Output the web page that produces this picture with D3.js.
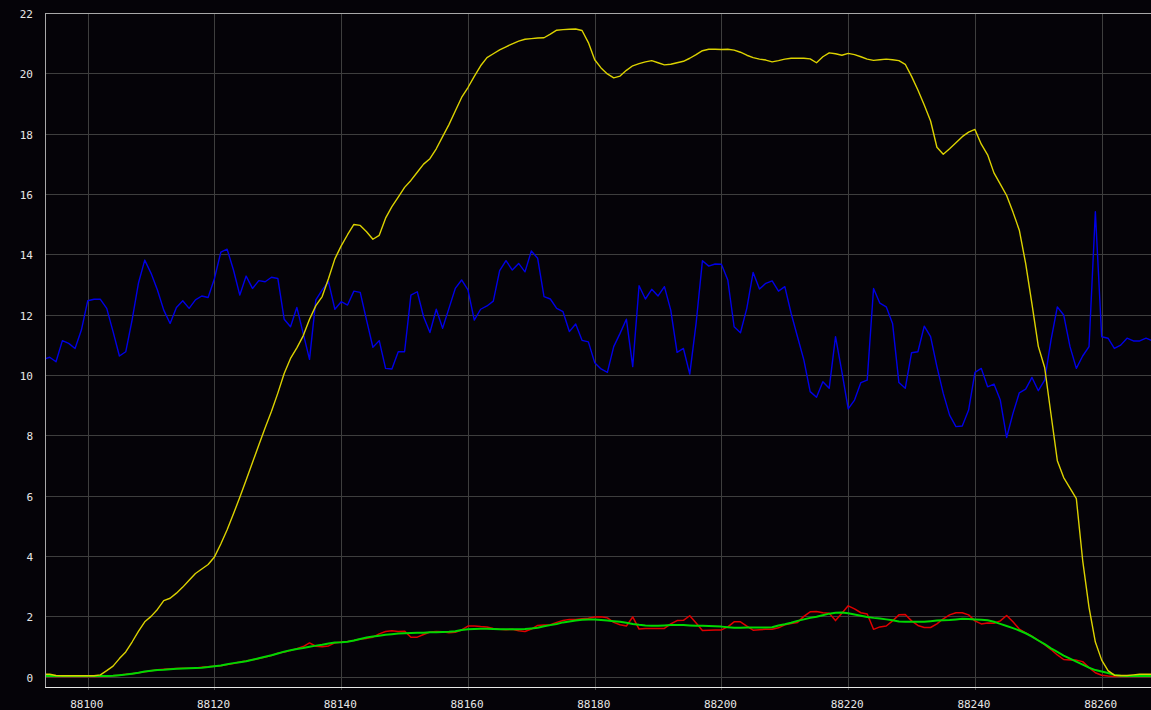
<!DOCTYPE html>
<html>
<head>
<meta charset="utf-8">
<script src="https://cdn.jsdelivr.net/npm/d3@7"></script>
<style>
  html, body { margin: 0; padding: 0; background: #050308; }
  svg { display: block; }
  text { font-family: "DejaVu Sans Mono", "Liberation Mono", monospace; font-size: 11px; fill: #e6e6e6; }
</style>
</head>
<body>
<svg id="chart" width="1151" height="710"></svg>
<script>
// Sample index along the horizontal axis (one sample per frame)
const frames = d3.range(88093, 88269);

const xTicks = [88100, 88120, 88140, 88160, 88180, 88200, 88220, 88240, 88260];
const yTicks = [0, 2, 4, 6, 8, 10, 12, 14, 16, 18, 20, 22];

// Yellow trace
const yellowSeries = [
  0.08, 0.08, 0.04, 0.03, 0.03, 0.03, 0.03, 0.03, 0.03, 0.06,
  0.2, 0.35, 0.6, 0.82, 1.15, 1.5, 1.82, 2.0, 2.23, 2.52,
  2.6, 2.77, 2.97, 3.2, 3.42, 3.57, 3.72, 3.97, 4.4, 4.87,
  5.4, 5.95, 6.52, 7.1, 7.68, 8.25, 8.8, 9.4, 10.05, 10.55,
  10.9, 11.3, 11.85, 12.3, 12.6, 13.2, 13.85, 14.28, 14.65, 14.99,
  14.96, 14.75, 14.5, 14.63, 15.2, 15.58, 15.9, 16.22, 16.45, 16.72,
  16.99, 17.17, 17.5, 17.9, 18.3, 18.75, 19.2, 19.53, 19.9, 20.25,
  20.52, 20.65, 20.78, 20.88, 20.98, 21.07, 21.13, 21.15, 21.17, 21.18,
  21.3, 21.43, 21.45, 21.46, 21.47, 21.42, 21.02, 20.45, 20.18, 19.98,
  19.85, 19.91, 20.1, 20.25, 20.32, 20.38, 20.42, 20.35, 20.28, 20.3,
  20.35, 20.4, 20.5, 20.62, 20.75, 20.8, 20.8, 20.79, 20.8, 20.77,
  20.7, 20.6, 20.52, 20.47, 20.44, 20.38, 20.42, 20.47, 20.5, 20.5,
  20.5, 20.48, 20.35, 20.55, 20.68, 20.65, 20.6, 20.66, 20.62, 20.55,
  20.47, 20.43, 20.45, 20.47, 20.45, 20.42, 20.3, 19.9, 19.45, 18.95,
  18.42, 17.55, 17.32, 17.5, 17.7, 17.9, 18.05, 18.14, 17.65, 17.3,
  16.7, 16.33, 15.95, 15.4, 14.8, 13.7, 12.35, 10.95, 10.25, 8.7,
  7.16, 6.6, 6.25, 5.9, 3.85, 2.3, 1.15, 0.55, 0.2, 0.05,
  0.04, 0.04, 0.06, 0.08, 0.08, 0.08
];

// Blue trace
const blueSeries = [
  10.52, 10.59, 10.44, 11.14, 11.05, 10.88, 11.49, 12.46, 12.51, 12.51,
  12.21, 11.44, 10.63, 10.77, 11.82, 13.04, 13.81, 13.37, 12.82, 12.15,
  11.71, 12.24, 12.46, 12.21, 12.49, 12.62, 12.57, 13.2, 14.07, 14.17,
  13.48, 12.65, 13.28, 12.87, 13.13, 13.09, 13.24, 13.2, 11.85, 11.6,
  12.24, 11.38, 10.52, 12.49, 12.82, 13.09, 12.18, 12.43, 12.32, 12.78,
  12.74, 11.82, 10.92, 11.14, 10.22, 10.2, 10.77, 10.77, 12.65, 12.76,
  11.93, 11.41, 12.18, 11.55, 12.21, 12.87, 13.15, 12.82, 11.82, 12.18,
  12.29, 12.45, 13.46, 13.79, 13.48, 13.7, 13.42, 14.11, 13.87, 12.6,
  12.52, 12.21, 12.1, 11.44, 11.69, 11.15, 11.1, 10.41, 10.2, 10.09,
  10.94, 11.38, 11.85, 10.28, 12.96, 12.52, 12.84, 12.62, 12.93, 12.15,
  10.75, 10.88, 10.03, 11.71, 13.79, 13.61, 13.68, 13.67, 13.15, 11.6,
  11.4, 12.21, 13.4, 12.85, 13.04, 13.12, 12.78, 12.93, 12.04, 11.27,
  10.5, 9.45, 9.26, 9.78, 9.56, 11.27, 10.11, 8.88, 9.17, 9.75,
  9.83, 12.87, 12.38, 12.26, 11.71, 9.75, 9.56, 10.74, 10.77, 11.62,
  11.27, 10.28, 9.39, 8.67, 8.29, 8.31, 8.84, 10.09, 10.22, 9.61,
  9.7, 9.17, 7.93, 8.73, 9.41, 9.53, 9.92, 9.48, 9.83, 11.16,
  12.26, 11.99, 10.94, 10.22, 10.63, 10.94, 15.41, 11.27, 11.22, 10.88,
  10.99, 11.22, 11.13, 11.13, 11.22, 11.13
];

// Red trace
const redSeries = [
  0.01, 0.01, 0.01, 0.01, 0.01, 0.01, 0.01, 0.01, 0.01, 0.01,
  0.01, 0.03, 0.05, 0.08, 0.1, 0.13, 0.16, 0.2, 0.23, 0.25,
  0.26, 0.27, 0.28, 0.28, 0.29, 0.31, 0.33, 0.35, 0.36, 0.4,
  0.44, 0.49, 0.52, 0.56, 0.6, 0.65, 0.7, 0.78, 0.82, 0.87,
  0.93, 1.0, 1.12, 1.01, 0.99, 1.02, 1.12, 1.15, 1.17, 1.2,
  1.25, 1.27, 1.31, 1.42, 1.5, 1.52, 1.5, 1.51, 1.31, 1.31,
  1.4, 1.48, 1.5, 1.49, 1.46, 1.47, 1.55, 1.68, 1.68, 1.66,
  1.65, 1.6, 1.57, 1.56, 1.57, 1.52, 1.5, 1.58, 1.7, 1.71,
  1.72, 1.8, 1.86, 1.9, 1.9, 1.92, 1.94, 1.98, 1.99, 1.95,
  1.8, 1.72, 1.68, 1.98, 1.58, 1.6, 1.6, 1.6, 1.6, 1.75,
  1.86, 1.87, 2.02, 1.78, 1.53, 1.54, 1.55, 1.55, 1.65, 1.82,
  1.82, 1.68, 1.54, 1.56, 1.57, 1.57, 1.62, 1.72, 1.76, 1.8,
  2.0, 2.15, 2.16, 2.12, 2.1, 1.86, 2.1, 2.35, 2.25, 2.12,
  2.08, 1.57, 1.65, 1.68, 1.85, 2.05, 2.06, 1.85, 1.7, 1.63,
  1.63, 1.75, 1.92, 2.05, 2.12, 2.12, 2.05, 1.85, 1.75, 1.78,
  1.77, 1.85, 2.03, 1.82, 1.58, 1.45, 1.34, 1.2, 1.06, 0.9,
  0.72, 0.57, 0.55, 0.55, 0.5, 0.3, 0.13, 0.05, 0.02, 0.01,
  0.01, 0.01, 0.01, 0.01, 0.01, 0.01
];

// Green trace (smoothed)
const greenSeries = [
  0.02, 0.02, 0.02, 0.02, 0.02, 0.02, 0.02, 0.02, 0.02, 0.02,
  0.02, 0.03, 0.05, 0.07, 0.1, 0.13, 0.17, 0.2, 0.22, 0.23,
  0.25, 0.26, 0.27, 0.28, 0.29, 0.3, 0.32, 0.35, 0.37, 0.41,
  0.45, 0.48, 0.51, 0.56, 0.61, 0.66, 0.71, 0.77, 0.83, 0.88,
  0.92, 0.95, 0.99, 1.03, 1.06, 1.1, 1.13, 1.14, 1.16, 1.2,
  1.25, 1.3, 1.33, 1.36, 1.39, 1.41, 1.43, 1.44, 1.45, 1.46,
  1.46, 1.47, 1.47, 1.48, 1.49, 1.51, 1.55, 1.57, 1.58, 1.59,
  1.59, 1.58, 1.57, 1.57, 1.57, 1.57, 1.58, 1.6, 1.62, 1.67,
  1.71, 1.75, 1.8, 1.83, 1.86, 1.89, 1.9, 1.9, 1.88, 1.86,
  1.84, 1.82, 1.79, 1.75, 1.72, 1.7, 1.69, 1.69, 1.7, 1.71,
  1.71, 1.71, 1.7, 1.69, 1.69, 1.68, 1.67, 1.66, 1.64, 1.62,
  1.62, 1.63, 1.63, 1.63, 1.63, 1.64, 1.7, 1.74, 1.79, 1.85,
  1.9, 1.95, 1.99, 2.04, 2.09, 2.12, 2.13, 2.1, 2.06, 2.02,
  1.98, 1.95, 1.93, 1.9, 1.87, 1.83, 1.82, 1.82, 1.82, 1.82,
  1.84, 1.86, 1.87, 1.88, 1.9, 1.92, 1.91, 1.9, 1.89, 1.87,
  1.82, 1.75, 1.68, 1.61, 1.53, 1.44, 1.33, 1.2, 1.08, 0.94,
  0.82, 0.7, 0.6, 0.5, 0.4, 0.3, 0.22, 0.17, 0.12, 0.06,
  0.03, 0.02, 0.02, 0.02, 0.02, 0.02
];

const traces = [
  { values: redSeries,    color: "#e00000", width: 1.5 },
  { values: greenSeries,  color: "#00d800", width: 2 },
  { values: blueSeries,   color: "#0000e6", width: 1.4 },
  { values: yellowSeries, color: "#dcd200", width: 1.4 }
];

(function draw() {
  const W = 1151, H = 710;
  const plotLeft = 45, plotRight = 1151, plotTop = 13, plotBottom = 687;

  const svg = d3.select("#chart");

  const x = d3.scaleLinear().domain([88093.26, 88267.78]).range([plotLeft, plotRight]);
  const y = d3.scaleLinear().domain([0, 22]).range([676.7, plotTop]);
  const crisp = v => Math.round(v) + 0.5;

  svg.append("rect").attr("width", W).attr("height", H).attr("fill", "#050308");

  // grid
  const grid = svg.append("g").attr("stroke", "#3e3e3e").attr("stroke-width", 1);
  grid.selectAll("line.h").data(yTicks).join("line")
    .attr("class", "h")
    .attr("x1", plotLeft).attr("x2", plotRight)
    .attr("y1", d => crisp(y(d))).attr("y2", d => crisp(y(d)));
  grid.selectAll("line.v").data(xTicks).join("line")
    .attr("class", "v")
    .attr("x1", d => crisp(x(d))).attr("x2", d => crisp(x(d)))
    .attr("y1", plotTop).attr("y2", plotBottom + 3);

  // frame
  svg.append("line").attr("x1", crisp(plotLeft)).attr("x2", crisp(plotLeft))
    .attr("y1", plotTop).attr("y2", plotBottom + 1).attr("stroke", "#a8a8a8");
  svg.append("line").attr("x1", plotLeft).attr("x2", plotRight)
    .attr("y1", crisp(plotTop)).attr("y2", crisp(plotTop)).attr("stroke", "#a8a8a8");
  svg.append("line").attr("x1", plotLeft).attr("x2", plotRight)
    .attr("y1", crisp(plotBottom)).attr("y2", crisp(plotBottom)).attr("stroke", "#e8e8e8");

  // tick labels
  svg.append("g").selectAll("text").data(yTicks).join("text")
    .attr("x", 33).attr("y", d => y(d) + 5)
    .attr("text-anchor", "end")
    .text(d => d);
  svg.append("g").selectAll("text").data(xTicks).join("text")
    .attr("x", d => x(d) - 1).attr("y", 708)
    .attr("text-anchor", "middle")
    .text(d => d);

  // traces
  svg.append("clipPath").attr("id", "plot-clip")
    .append("rect").attr("x", plotLeft + 1).attr("y", plotTop)
    .attr("width", plotRight - plotLeft).attr("height", plotBottom - plotTop);

  const line = vals => d3.line()
    .x((d, i) => x(frames[i]))
    .y(d => y(d))(vals);

  svg.append("g").attr("clip-path", "url(#plot-clip)")
    .selectAll("path").data(traces).join("path")
    .attr("d", d => line(d.values))
    .attr("fill", "none")
    .attr("stroke", d => d.color)
    .attr("stroke-width", d => d.width)
    .attr("stroke-linejoin", "round");
})();
</script>
</body>
</html>
